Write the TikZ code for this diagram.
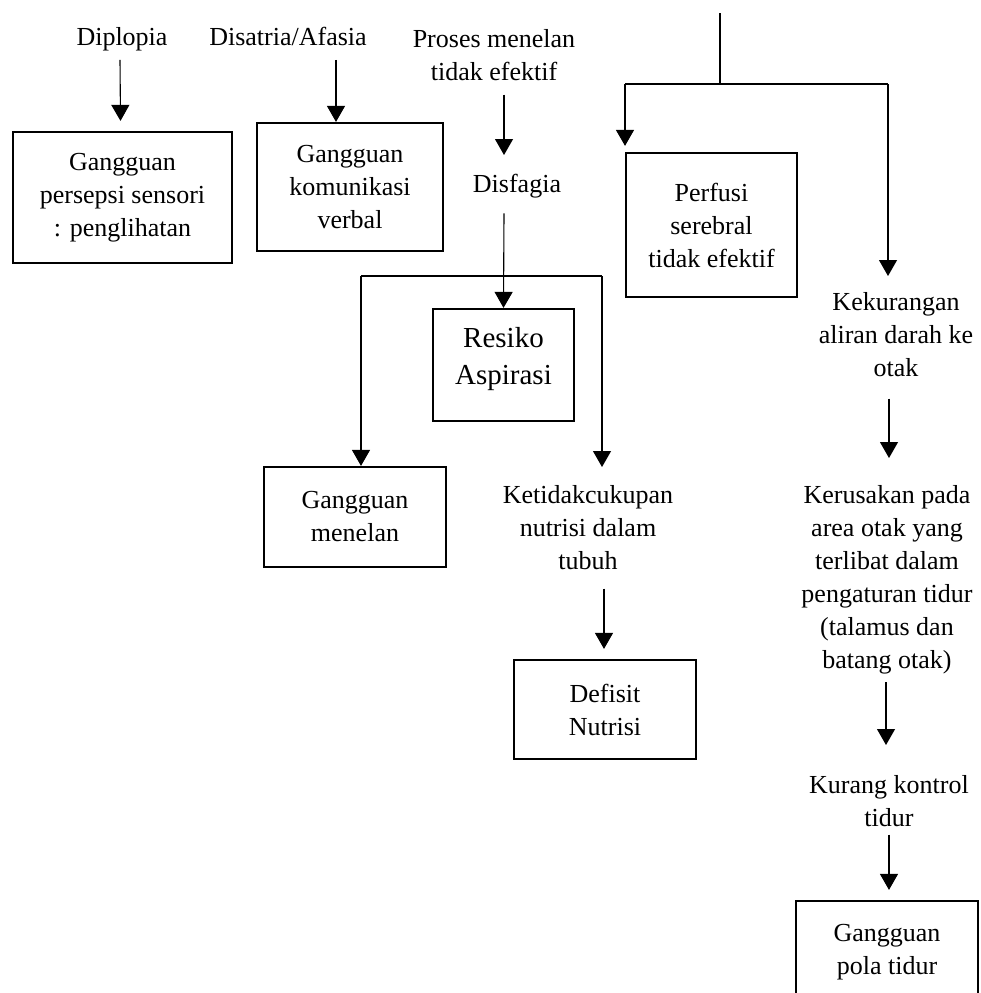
\documentclass[tikz,border=0pt]{standalone}
\usepackage{fontspec}
\setmainfont{Liberation Serif}
\usepackage{tikz}
\usetikzlibrary{arrows.meta}

\tikzset{
  box/.style={draw, line width=2.2pt, align=center, inner sep=0pt},
  txt/.style={align=center, inner sep=0pt, anchor=north},
  ln/.style={line width=1.1pt},
  arr/.style={line width=1.1pt, -{Triangle[length=16pt,width=18pt]}},
  every node/.style={font=\fontsize{26}{33}\selectfont}
}

\begin{document}
\begin{tikzpicture}[x=1pt, y=-1pt]

      \useasboundingbox (0,0) rectangle (981,993);
      \clip (0,0) rectangle (981,993);

      % left column
      \node[txt] (dip) at (122,27) {Diplopia};
      \node[box, minimum width=219pt, minimum height=131pt] (gp) at (122.5,197.5)
        {Gangguan\\persepsi sensori\\: penglihatan};

      \node[txt] (dis) at (288,27) {Disatria/Afasia};
      \node[box, minimum width=186pt, minimum height=128pt] (kv) at (350,187)
        {Gangguan\\komunikasi\\verbal};

      % middle
      \node[txt] (pmt) at (494,29) {Proses menelan\\tidak efektif};
      \node[txt] (dfg) at (517,174) {Disfagia};
      \node[box, minimum width=141pt, minimum height=112pt,
            font=\fontsize{29}{37}\selectfont] (ra) at (503.5,365)
        {Resiko\\Aspirasi\rule[-18pt]{0pt}{18pt}};
      \node[box, minimum width=182pt, minimum height=100pt] (gm) at (355,517)
        {Gangguan\\menelan};
      \node[txt] (kn) at (588,485) {Ketidakcukupan\\nutrisi dalam\\tubuh};
      \node[box, minimum width=182pt, minimum height=99pt] (dn) at (605,709.5)
        {Defisit\\Nutrisi};

      % right
      \node[box, minimum width=171pt, minimum height=144pt] (ps) at (711.5,225)
        {Perfusi\\serebral\\tidak efektif};
      \node[txt] (kad) at (896,292) {Kekurangan\\aliran darah ke\\otak};
      \node[txt] (kso) at (887,485)
        {Kerusakan pada\\area otak yang\\terlibat dalam\\pengaturan tidur\\(talamus dan\\batang otak)};
      \node[txt] (kkt) at (889,775) {Kurang kontrol\\tidur};
      \node[box, minimum width=182pt, minimum height=102pt] (pt) at (887,952)
        {Gangguan\\pola tidur};

      \coordinate (top) at (720,13);
      \coordinate (jr) at (720,84);
      \coordinate (jl) at (625,84);
      \coordinate (jrr) at (888,84);
      \coordinate (bl) at (361,276);
      \coordinate (brr) at (602,276);

      % connectors
      \draw[arr] ([xshift=-2pt,yshift=-9pt]dip.south) -- ([xshift=-2pt,yshift=10pt]gp.north);
      \draw[arr] ([xshift=48pt,yshift=-14pt]dis.south) -- ([xshift=-14pt]kv.north);
      \draw[arr] ([xshift=10pt,yshift=-14pt]pmt.south) -- ([xshift=-13pt,yshift=19pt]dfg.north);
      \draw[arr] ([xshift=-13pt,yshift=-15pt]dfg.south) -- (ra.north);
      \draw[ln] (bl) -- (brr);
      \draw[arr] (bl) -- (bl |- gm.north);
      \draw[arr] (brr) -- ([yshift=18pt]brr |- kn.north);
      \draw[arr] ([xshift=16pt,yshift=-19pt]kn.south) -- ([xshift=-1pt,yshift=10pt]dn.north);

      \draw[ln] (top) -- (jr);
      \draw[ln] (jl) -- (jrr);
      \draw[arr] (jl) -- ([yshift=6pt]jl |- ps.north);
      \draw[arr] (jrr) -- ([yshift=16pt]jrr |- kad.north);
      \draw[arr] ([xshift=-7pt,yshift=-22pt]kad.south) -- ([xshift=2pt,yshift=27pt]kso.north);
      \draw[arr] ([xshift=-1pt,yshift=-8pt]kso.south) -- ([xshift=-3pt,yshift=30pt]kkt.north);
      \draw[arr] ([yshift=-8pt]kkt.south) -- ([xshift=2pt,yshift=10pt]pt.north);

\end{tikzpicture}
\end{document}
